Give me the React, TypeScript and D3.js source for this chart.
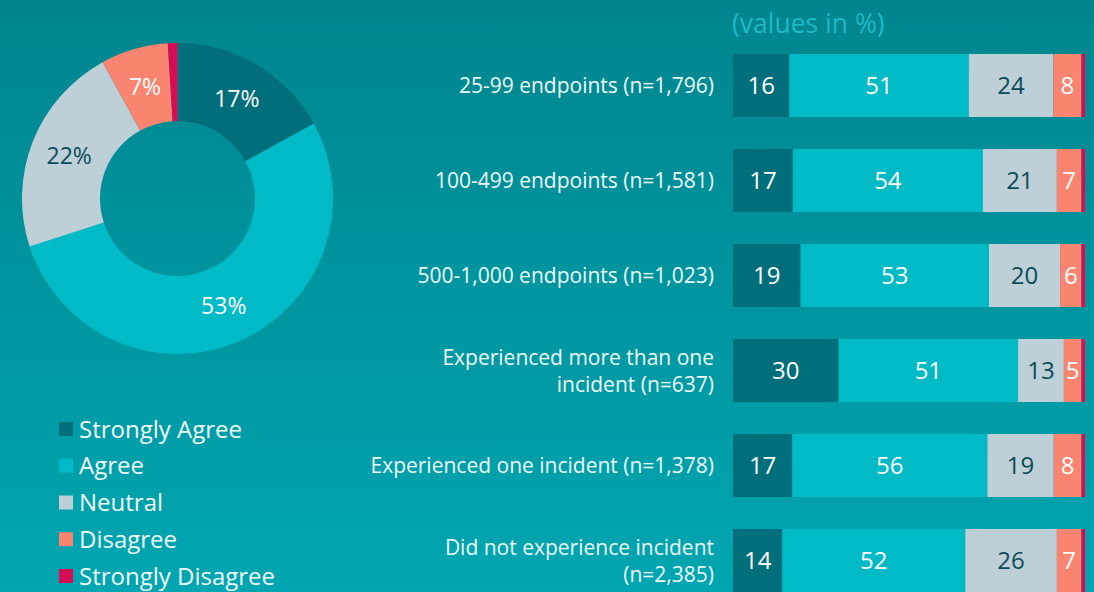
import React, { useRef, useEffect } from "react";
import * as d3 from "d3";

const fontFamily = "'Open Sans', 'Noto Sans', sans-serif";

// answer categories, in stack / legend order
const answers = ["Strongly Agree", "Agree", "Neutral", "Disagree", "Strongly Disagree"];
const answerColors = ["#006f7b", "#00bac6", "#bdd0d7", "#f9846f", "#d70c55"];
const answerTextColors = ["#ffffff", "#ffffff", "#0b4b57", "#ffffff", "#ffffff"];

// overall split (donut)
const overall = [17, 53, 22, 7, 1];

// groups (bars)
const groupLabels = [
  ["25-99 endpoints (n=1,796)"],
  ["100-499 endpoints (n=1,581)"],
  ["500-1,000 endpoints (n=1,023)"],
  ["Experienced more than one", "incident (n=637)"],
  ["Experienced one incident (n=1,378)"],
  ["Did not experience incident", "(n=2,385)"]
];
const stronglyAgree = [16, 17, 19, 30, 17, 14];
const agree = [51, 54, 53, 51, 56, 52];
const neutral = [24, 21, 20, 13, 19, 26];
const disagree = [8, 7, 6, 5, 8, 7];
const stronglyDisagree = [1, 1, 1, 1, 1, 1];

export default function App() {
  const ref = useRef<SVGSVGElement | null>(null);
  const width = 1094;
  const height = 592;

  useEffect(() => {
    const svg = d3.select(ref.current);
    svg.selectAll("*").remove();
    svg.style("font-family", fontFamily);

    // background gradient
    const grad = svg.append("defs").append("linearGradient")
      .attr("id", "bg").attr("x1", 0).attr("y1", 0).attr("x2", 0).attr("y2", 1);
    grad.append("stop").attr("offset", "0%").attr("stop-color", "#00858e");
    grad.append("stop").attr("offset", "100%").attr("stop-color", "#00a6b1");
    svg.append("rect").attr("width", width).attr("height", height).attr("fill", "url(#bg)");

    // ---- donut
    const cx = 177.5, cy = 198.5;
    const pie = d3.pie<number>().sort(null).value(d => d);
    const arc = d3.arc<d3.PieArcDatum<number>>().innerRadius(77.5).outerRadius(155.5);
    const donut = svg.append("g").attr("transform", `translate(${cx},${cy})`);
    const arcs = pie(overall);
    donut.selectAll("path")
      .data(arcs)
      .join("path")
      .attr("d", arc)
      .attr("fill", (d, i) => answerColors[i]);
    donut.selectAll("text")
      .data(arcs.filter(d => d.data >= 5))
      .join("text")
      .attr("transform", d => `translate(${arc.centroid(d)})`)
      .attr("text-anchor", "middle")
      .attr("dy", "0.36em")
      .attr("font-size", 23)
      .attr("fill", d => answerTextColors[d.index])
      .text(d => d.data + "%");

    // ---- legend
    const legendY = d3.scalePoint<string>().domain(answers).range([429, 576]);
    const legend = svg.append("g");
    legend.selectAll("rect")
      .data(answers)
      .join("rect")
      .attr("x", 59)
      .attr("y", d => legendY(d)! - 7)
      .attr("width", 14)
      .attr("height", 14)
      .attr("fill", (d, i) => answerColors[i]);
    legend.selectAll("text")
      .data(answers)
      .join("text")
      .attr("x", 79)
      .attr("y", d => legendY(d)!)
      .attr("dy", "0.36em")
      .attr("font-size", 24)
      .attr("fill", "#f2fbfb")
      .text(d => d);

    // ---- stacked bars
    const rows = groupLabels.map((lab, i) => ({
      key: String(i),
      "Strongly Agree": stronglyAgree[i],
      "Agree": agree[i],
      "Neutral": neutral[i],
      "Disagree": disagree[i],
      "Strongly Disagree": stronglyDisagree[i]
    }));
    const stack = d3.stack<any>().keys(answers).offset(d3.stackOffsetExpand);
    const series = stack(rows);

    const x = d3.scaleLinear().domain([0, 1]).range([733, 1085]);
    const y = d3.scaleBand<string>()
      .domain(rows.map(r => r.key))
      .range([54, 592])
      .paddingInner(0.3368)
      .paddingOuter(0);

    const barsG = svg.append("g");
    series.forEach((s, si) => {
      const g = barsG.append("g");
      g.selectAll("rect")
        .data(s)
        .join("rect")
        .attr("x", d => x(d[0]))
        .attr("y", d => y(d.data.key)!)
        .attr("width", d => x(d[1]) - x(d[0]))
        .attr("height", y.bandwidth())
        .attr("fill", answerColors[si]);
      if (si < 4) {
        g.selectAll("text")
          .data(s)
          .join("text")
          .attr("x", d => (x(d[0]) + x(d[1])) / 2)
          .attr("y", d => y(d.data.key)! + y.bandwidth() / 2)
          .attr("dy", "0.36em")
          .attr("text-anchor", "middle")
          .attr("font-size", 24)
          .attr("fill", answerTextColors[si])
          .text(d => d.data[answers[si]]);
      }
    });

    // row labels
    const lineH = 27;
    const labelsG = svg.append("g");
    rows.forEach((r, i) => {
      const lines = groupLabels[i];
      const mid = y(r.key)! + y.bandwidth() / 2;
      const t = labelsG.append("text")
        .attr("text-anchor", "end")
        .attr("font-size", 21)
        .attr("fill", "#eef9fa");
      lines.forEach((ln, li) => {
        t.append("tspan")
          .attr("x", 714)
          .attr("y", mid + (li - (lines.length - 1) / 2) * lineH)
          .attr("dy", "0.36em")
          .text(ln);
      });
    });

    // subtitle
    svg.append("text")
      .attr("x", 732)
      .attr("y", 33)
      .attr("font-size", 26.5)
      .attr("fill", "#1cbac5")
      .text("(values in %)");
  }, []);

  return (
    <div style={{ position: "fixed", left: 0, top: 0 }}>
      <svg ref={ref} width={width} height={height} style={{ display: "block" }}></svg>
    </div>
  );
}
